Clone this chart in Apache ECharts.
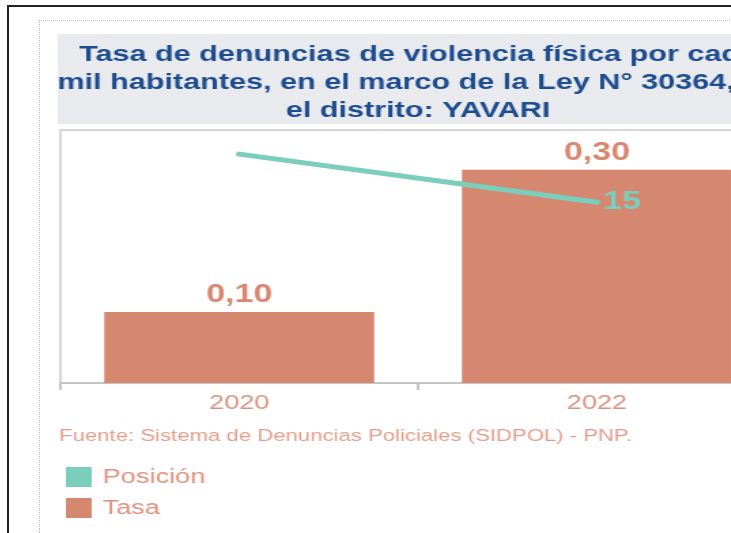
<!DOCTYPE html>
<html>
<head>
<meta charset="utf-8">
<script src="https://cdn.jsdelivr.net/npm/echarts@6/dist/echarts.min.js"></script>
<style>
  body { margin: 0; background: #fff; overflow: hidden; width: 731px; height: 533px; }
  .frame { position: absolute; left: 7px; top: 5px; width: 800px; height: 600px;
           border-left: 2px solid #222; border-top: 2px solid #222; }
  .dots { position: absolute; left: 39px; top: 20px; width: 800px; height: 600px;
          border-left: 1px dotted #bbb; border-top: 1px dotted #bbb; }
  /* the reference picture is stretched sideways, so the chart is too */
  #main { position: absolute; left: 40px; top: 21px; width: 556px; height: 512px;
          transform: scaleX(1.36); transform-origin: 0 0; }
</style>
</head>
<body>
<div class="frame"></div>
<div class="dots"></div>
<div id="main"></div>
<script>
  // datos
  var anios = ['2020', '2022'];
  var tasa = [0.10, 0.30];
  var posicion = [19, 15];
  var titulo = 'Tasa de denuncias de violencia física por cada\nmil habitantes, en el marco de la Ley N° 30364, en\nel distrito: YAVARI';
  var fuente = 'Fuente: Sistema de Denuncias Policiales (SIDPOL) - PNP.';

  var colorTasa = '#d6876f',
      colorPos = '#7acebc',
      fam = '"Liberation Sans", Arial, sans-serif';

  var myChart = echarts.init(document.getElementById('main'));
  myChart.setOption({
    animation: false,
    textStyle: { fontFamily: fam },
    title: {
      text: titulo,
      left: 'center',
      top: 15,
      textStyle: { fontSize: 22.5, fontWeight: 'bold', color: '#1d4d8e', lineHeight: 28, fontFamily: fam }
    },
    graphic: [
      { type: 'rect', left: 13, top: 13, z: 0, shape: { width: 540, height: 90 }, style: { fill: '#e9eaee' } },
      { type: 'text', left: 14, top: 408, style: { text: fuente, fontSize: 16.3, fill: '#e49d8b', fontFamily: fam } }
    ],
    legend: {
      orient: 'vertical',
      left: 19,
      top: 446,
      padding: 0,
      itemWidth: 19,
      itemHeight: 20,
      itemGap: 11,
      textStyle: { fontSize: 20, color: '#e0917c', fontFamily: fam, padding: [0, 0, 0, 3] },
      data: [{ name: 'Posición', icon: 'rect' }, { name: 'Tasa', icon: 'rect' }]
    },
    grid: {
      left: 15, right: 15, top: 109, bottom: 150,
      show: true, borderColor: '#cacaca', borderWidth: 1.5
    },
    xAxis: {
      type: 'category',
      data: anios,
      axisLine: { lineStyle: { color: '#c4c4c4', width: 2 } },
      axisTick: { show: true, length: 7, lineStyle: { color: '#c4c4c4', width: 2 } },
      axisLabel: { fontSize: 20, color: '#dc9282', margin: 10 }
    },
    yAxis: [
      { type: 'value', min: 0, max: 0.356, show: false, splitLine: { show: false } },
      { type: 'value', min: 0, max: 21, show: false, splitLine: { show: false } }
    ],
    series: [
      {
        name: 'Tasa',
        type: 'bar',
        barWidth: '75.5%',
        data: tasa,
        itemStyle: { color: colorTasa },
        label: {
          show: true, position: 'top', distance: 4,
          fontSize: 25, fontWeight: 'bold', color: '#d9866f',
          formatter: function (p) { return p.value.toFixed(2).replace('.', ','); }
        }
      },
      {
        name: 'Posición',
        type: 'line',
        yAxisIndex: 1,
        z: 5,
        symbol: 'circle',
        symbolSize: 1,
        itemStyle: { color: colorPos },
        lineStyle: { color: colorPos, width: 5, cap: 'round' },
        data: posicion.map(function (v, i) {
          return { value: v, label: { show: i === posicion.length - 1 } };
        }),
        label: {
          position: 'right', distance: 4,
          fontSize: 25, fontWeight: 'bold', color: '#78cfbb'
        }
      }
    ]
  });
</script>
</body>
</html>
